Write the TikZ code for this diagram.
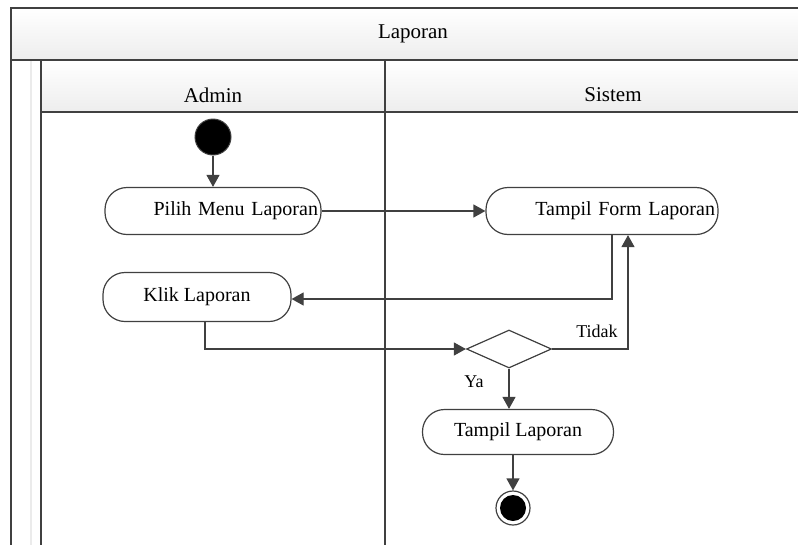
\documentclass[tikz,border=0pt]{standalone}
\usepackage{fontspec}
\setmainfont{Liberation Serif}
\usepackage{tikz}
\usetikzlibrary{shapes.geometric, arrows.meta}
\definecolor{garis}{HTML}{404040}
\tikzset{
  aktivitas/.style={draw=garis, line width=1.2pt, rectangle, rounded corners=22pt, inner ysep=0pt, font=\fontsize{20}{23}\selectfont},
  keputusan/.style={draw=garis, line width=1.2pt, diamond, aspect=2.2, minimum width=85pt, minimum height=38pt, inner sep=0pt},
  panah/.style={draw=garis, line width=1.2pt, -{Triangle[length=12pt,width=13pt]}},
  judul/.style={font=\fontsize{21}{25}\selectfont},
  ket/.style={font=\fontsize{18}{21}\selectfont}
}
\begin{document}
\begin{tikzpicture}[x=1pt, y=-1pt]
\useasboundingbox (0,0) rectangle (798,544);
\clip (0,0) rectangle (798,544);
\coordinate (tl) at (11,8);
\coordinate (tr) at (806,8);
\coordinate (bl) at (11,552);
\coordinate (br) at (806,552);
 \shade[top color=white, bottom color=black!7] (11,8) rectangle (806,60);
 \shade[top color=white, bottom color=black!7] (41,60) rectangle (806,112);
 \draw[color=black!8, line width=1.2pt] (31,60) -- (31,552);
 \draw[color=garis, line width=1.7pt] (tl) -- (tr) -- (br) -- (bl) -- cycle;
 \draw[color=garis, line width=1.7pt] (11,60) -- (806,60);
 \draw[color=garis, line width=1.7pt] (41,112) -- (806,112);
 \draw[color=garis, line width=1.7pt] (41,60) -- (41,552);
 \draw[color=garis, line width=1.7pt] (385,60) -- (385,552);
 \node[judul] (laporan) at (413,34) {Laporan};
 \node[judul] (admin) at (213,95) {Admin};
 \node[judul] (sistem) at (613,95) {Sistem};

 \node[circle, fill=black, draw=garis, line width=1pt, minimum size=36pt, inner sep=0pt] (start) at (213,137) {};
 \node[aktivitas, minimum height=47pt, text width=210pt, inner xsep=3pt, align=right] (pilih) at (213,211) {Pilih Menu Laporan};
 \node[aktivitas, minimum height=47pt, text width=226pt, inner xsep=3pt, align=right] (tampilform) at (602,211) {Tampil Form Laporan};
 \node[aktivitas, minimum height=49pt, minimum width=188pt] (klik) at (197,297) {Klik Laporan};
 \node[keputusan] (cek) at (509,349) {};
 \node[aktivitas, minimum height=45pt, minimum width=191pt] (tampil) at (518,432) {Tampil Laporan};
 \node[circle, draw=garis, line width=1.2pt, minimum size=34pt, inner sep=0pt] (stop) at (513,508) {};
 \fill[black] (stop) circle (13pt);

 \draw[panah] (start) -- (pilih);
 \draw[panah] (pilih) -- (tampilform);
 \draw[panah] ([xshift=10pt]tampilform.south) |- ([yshift=-2pt]klik.east);
 \draw[panah] ([xshift=8pt]klik.south) |- (cek.west);
 \draw[panah] (cek.east) -| ([xshift=26pt]tampilform.south);
 \draw[panah] (cek.south) -- (cek.south |- tampil.north);
 \draw[panah] ([xshift=-5pt]tampil.south) -- (stop);
 \node[ket] (tidak) at (597,331) {Tidak};
 \node[ket] (ya) at (474,382) {Ya};
\end{tikzpicture}
\end{document}
